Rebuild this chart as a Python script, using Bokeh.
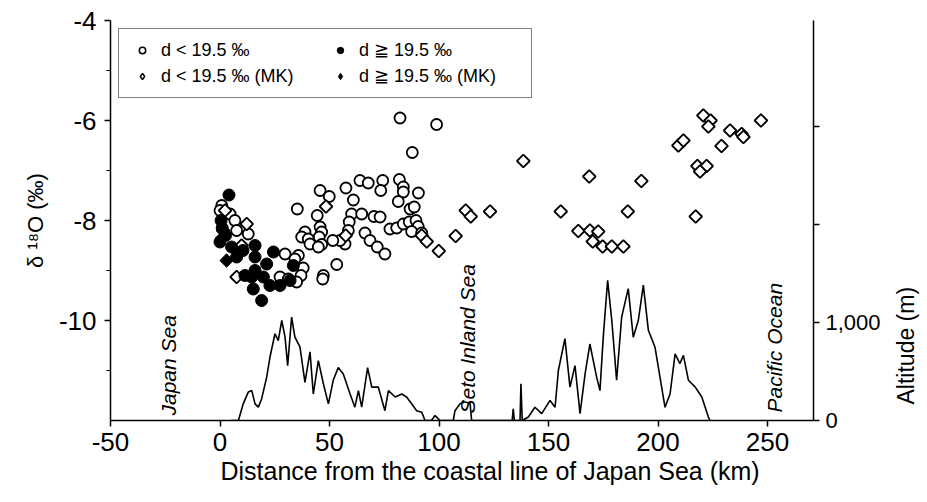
import numpy as np
from bokeh.plotting import figure
from bokeh.layouts import row
from bokeh.models import (Range1d, LinearAxis, FixedTicker, Legend, LegendItem, Title,
                          ColumnDataSource)
from bokeh.core.properties import value
from bokeh.embed import file_html
from bokeh.resources import INLINE

FONT = "Liberation Sans"

# ---------------- data ----------------
# d < 19.5 permil (open circles)
open_circle_x = [82.2, 98.9, 87.8, 63.9, 67.7, 74.3, 73.4, 81.9, 83.7, 83.7, 90.6, 81.4, 86.8, 88.7,
                 57.5, 45.7, 49.9, 60.9, 35.3, 44.4, 60.1, 64.7, 59.0, 70.3, 73.1,
                 77.6, 80.7, 83.7, 86.4, 89.5, 90.5, 87.5, 92.1,
                 66.2, 68.5, 71.8, 75.3, 58.6, 57.1, 54.8, 51.5,
                 45.7, 46.4, 45.3, 38.8, 37.3, 40.3, 41.1, 46.4, 44.9,
                 53.3, 47.2, 46.9, 35.8,
                 0.8, 0.0, 4.6, 6.8, 7.6, 12.9, 29.7, 34.2, 38.0, 37.0, 35.0, 27.4, 31.2]
open_circle_y = [-5.95, -6.08, -6.64, -7.20, -7.25, -7.20, -7.40, -7.18, -7.33, -7.43, -7.45, -7.62, -7.77, -7.73,
                 -7.35, -7.40, -7.52, -7.59, -7.77, -7.90, -7.87, -7.87, -8.03, -7.92, -7.93,
                 -8.17, -8.15, -8.07, -8.03, -8.00, -8.12, -8.22, -8.25,
                 -8.25, -8.40, -8.53, -8.67, -8.20, -8.47, -8.40, -8.40,
                 -8.13, -8.23, -8.33, -8.23, -8.33, -8.37, -8.47, -8.48, -8.53,
                 -8.88, -9.10, -9.17, -8.70,
                 -7.70, -7.80, -7.87, -8.00, -8.20, -8.27, -8.67, -8.77, -8.95, -9.10, -9.23, -9.13, -9.17]

# d >= 19.5 permil (filled circles)
filled_circle_x = [4.1, 0.5, 1.0, 2.5, 0.0, 5.3, 16.0, 7.6, 10.5, 24.4, 16.0, 21.3, 33.5, 16.0,
                   11.4, 19.8, 14.5, 22.8, 27.4, 32.0, 15.2, 19.0]
filled_circle_y = [-7.49, -8.00, -8.15, -8.30, -8.43, -8.53, -8.50, -8.73, -8.60, -8.63, -8.73, -8.87, -8.90, -9.00,
                   -9.10, -9.13, -9.13, -9.30, -9.30, -9.20, -9.37, -9.60]

# d < 19.5 permil (MK, open diamonds)
open_diamond_x = [2.3, 12.2, 1.4, 9.9, 7.6, 48.4, 57.4, 92.1, 94.4, 107.6, 99.9,
                  112.2, 114.5, 123.3, 138.5, 155.6, 163.6, 168.9, 172.7, 170.2, 174.7, 178.9, 184.2,
                  168.6, 186.2, 192.4, 209.3, 211.6, 217.2, 218.0, 222.2, 219.2, 220.7, 224.0, 223.0,
                  229.0, 232.9, 238.2, 239.0, 247.0]
open_diamond_y = [-7.80, -8.07, -8.20, -8.50, -9.13, -7.72, -8.30, -8.30, -8.42, -8.31, -8.61,
                  -7.80, -7.92, -7.82, -6.81, -7.82, -8.21, -8.20, -8.22, -8.42, -8.52, -8.52, -8.52,
                  -7.12, -7.82, -7.21, -6.50, -6.40, -7.92, -6.91, -6.91, -7.02, -5.90, -6.00, -6.12,
                  -6.51, -6.20, -6.27, -6.33, -6.00]

# d >= 19.5 permil (MK, filled diamonds)
filled_diamond_x = [3.0, 1.0]
filled_diamond_y = [-8.80, -8.35]

# topographic profile (distance km, altitude m)
alt_x = [5, 8.4, 10.6, 12.9, 14.5, 16.0, 17.5, 19.0, 21.3, 22.8, 25.1, 26.6, 28.2, 29.7, 30.9,
         32.7, 34.2, 36.5, 38.8, 41.1, 42.6, 44.9, 47.2, 49.5, 51.7, 54.0, 56.3, 59.4, 61.6,
         63.2, 64.7, 67.4, 69.3, 72.3, 75.3, 76.9, 80.0, 83.0, 85.2, 87.5, 89.8, 92.1, 93.6,
         96.5, 98.2, 100.5, 106.5, 107.3, 109.6, 111.9, 114.2, 114.9,
         133.4, 133.9, 134.4, 137.0, 137.4, 138.0, 140.8, 143.8, 146.9, 150.7, 153.0, 154.5,
         157.5, 159.8, 162.1, 164.4, 166.7, 168.9, 172.0, 173.5, 175.0, 177.0, 178.9, 181.1,
         183.4, 186.4, 188.7, 191.0, 193.3, 195.6, 198.6, 203.2, 205.5, 207.8, 210.0, 211.6,
         213.9, 217.0, 220.0, 223.0, 223.7]
alt_m = [0, 0, 170, 290, 305, 170, 136, 220, 440, 645, 885, 815, 1020, 850, 560,
         1055, 850, 750, 390, 700, 270, 610, 375, 170, 410, 540, 475, 270, 136,
         305, 136, 540, 340, 340, 100, 305, 240, 270, 240, 170, 100, 85, 0,
         0, 50, 0, 0, 100, 170, 190, 170, 0,
         0, 120, 0, 0, 375, 0, 35, 135, 70, 205, 135, 510,
         835, 340, 560, 70, 475, 780, 440, 305, 850, 1430, 1020, 410,
         1055, 1345, 850, 1020, 1380, 920, 750, 135, 270, 680, 580, 665,
         410, 340, 240, 35, 0]

x_ticks = [-50, 0, 50, 100, 150, 200, 250]
x_tick_labels = {-50: "-50", 0: "0", 50: "50", 100: "100", 150: "150", 200: "200", 250: "250"}
d18o_ticks = [-4, -6, -8, -10]
d18o_tick_labels = {-4: "-4", -6: "-6", -8: "-8", -10: "-10"}
d18o_minor = [-5, -7, -9, -11]
alt_ticks = [0, 1000, 2000, 3000]
alt_tick_labels = {0: "0", 1000: "1,000", 2000: "", 3000: ""}

region_names = ["Japan Sea", "Seto Inland Sea", "Pacific Ocean"]
region_x = [-23.7, 112.8, 253.4]
region_y = [-11.9, -11.86, -11.84]

x_title = "Distance from the coastal line of Japan Sea (km)"
alt_title = ["Altitude (m)"]
alt_title_x = [0.5]
alt_title_y = [398]

legend_labels = ["d < 19.5 ‰", "d ≧ 19.5 ‰", "d < 19.5 ‰ (MK)", "d ≧ 19.5 ‰ (MK)"]

# ---------------- main figure ----------------
p = figure(width=885, height=494, output_backend="svg", toolbar_location=None,
           x_range=Range1d(-50, 271), y_range=Range1d(-12, -4),
           min_border_left=110, min_border_right=72, min_border_top=20, min_border_bottom=74)
p.extra_y_ranges = {"alt": Range1d(0, 4080)}
p.outline_line_color = None
p.xgrid.grid_line_color = None
p.ygrid.grid_line_color = None

xa = p.xaxis[0]
xa.ticker = FixedTicker(ticks=x_ticks)
xa.major_label_overrides = x_tick_labels
xa.major_label_text_font = FONT
xa.major_label_text_font_size = "26px"
xa.major_label_text_color = "black"
xa.major_tick_out = 6
xa.major_tick_in = 0
xa.minor_tick_out = 0
xa.axis_line_width = 1.5
xa.major_tick_line_width = 1.5
xa.major_label_standoff = 6

ya = p.yaxis[0]
ya.ticker = FixedTicker(ticks=d18o_ticks, minor_ticks=d18o_minor)
ya.major_label_overrides = d18o_tick_labels
ya.axis_label = "δ ¹⁸O (‰)"
ya.axis_label_text_font = FONT
ya.axis_label_text_font_size = "22px"
ya.axis_label_text_font_style = "normal"
ya.axis_label_text_color = "black"
ya.axis_label_standoff = 8
ya.major_label_text_font = FONT
ya.major_label_text_font_size = "26px"
ya.major_label_text_color = "black"
ya.major_tick_out = 6
ya.major_tick_in = 0
ya.minor_tick_out = 4
ya.minor_tick_in = 0
ya.axis_line_width = 1.5
ya.major_tick_line_width = 1.5
ya.major_label_standoff = 8

ra = LinearAxis(y_range_name="alt", ticker=FixedTicker(ticks=alt_ticks),
                major_label_overrides=alt_tick_labels)
ra.major_label_text_font = FONT
ra.major_label_text_font_size = "22px"
ra.major_label_text_color = "black"
ra.major_tick_out = 6
ra.major_tick_in = 0
ra.minor_tick_out = 0
ra.axis_line_width = 1.5
ra.major_tick_line_width = 1.5
ra.major_label_standoff = 6
p.add_layout(ra, "right")

p.add_layout(Title(text=x_title, align="left", offset=110, standoff=6, vertical_align="top",
                   text_font=FONT, text_font_size="25px", text_font_style="normal",
                   text_color="black"), "below")

# profile
p.line(alt_x, alt_m, y_range_name="alt", line_color="black", line_width=1.6)

# data points
r_oc = p.scatter(open_circle_x, open_circle_y, marker="circle", size=11, fill_color="white",
                 line_color="black", line_width=1.8)
r_od = p.scatter(open_diamond_x, open_diamond_y, marker="square", angle=np.pi / 4, size=9,
                 fill_color="white", line_color="black", line_width=1.8)
r_fc = p.scatter(filled_circle_x, filled_circle_y, marker="circle", size=12, fill_color="black",
                 line_color="black", line_width=1)
r_fd = p.scatter(filled_diamond_x, filled_diamond_y, marker="square", angle=np.pi / 4, size=9.5,
                 fill_color="black", line_color="black", line_width=1)

# region names
p.text(x=region_x, y=region_y, text=region_names, angle=np.pi / 2,
       text_font=value(FONT), text_font_style="italic", text_font_size="21px",
       text_align="left", text_baseline="middle", text_color="black")

# legend-only glyphs (NaN, never drawn in the plot area)
nan_src = ColumnDataSource(data=dict(x=[np.nan], y=[np.nan]))
g1 = p.scatter("x", "y", source=nan_src, marker="circle", size=8, fill_color="white",
               line_color="black", line_width=1.5)
g2 = p.scatter("x", "y", source=nan_src, marker="circle", size=9, fill_color="black",
               line_color="black")
g3 = p.scatter("x", "y", source=nan_src, marker="diamond", size=11, fill_color="white",
               line_color="black", line_width=1.5)
g4 = p.scatter("x", "y", source=nan_src, marker="diamond", size=8, fill_color="black",
               line_color="black")

legend = Legend(items=[LegendItem(label=legend_labels[0], renderers=[g1]),
                       LegendItem(label=legend_labels[1], renderers=[g2]),
                       LegendItem(label=legend_labels[2], renderers=[g3]),
                       LegendItem(label=legend_labels[3], renderers=[g4])],
                location="top_left", orientation="horizontal", ncols=2,
                label_text_font=FONT, label_text_font_size="18px", label_text_color="black",
                glyph_width=26, glyph_height=16, label_standoff=6, label_width=162,
                label_height=18, spacing=4, padding=10, margin=8,
                border_line_color="black", border_line_width=1,
                background_fill_color="white", background_fill_alpha=1)
p.add_layout(legend)

# ---------------- narrow strip for the altitude title ----------------
# same vertical scale as the altitude axis (about 10.2 m per pixel), frame extended downward
p2 = figure(width=40, height=494, output_backend="svg", toolbar_location=None,
            x_range=Range1d(0, 1), y_range=Range1d(-449, 4080),
            x_axis_location=None, y_axis_location=None,
            min_border_left=0, min_border_right=0, min_border_top=20, min_border_bottom=30)
p2.outline_line_color = None
p2.xgrid.grid_line_color = None
p2.ygrid.grid_line_color = None
p2.text(x=alt_title_x, y=alt_title_y, text=alt_title, angle=np.pi / 2,
        text_font=value(FONT), text_font_size="23px", text_align="center",
        text_baseline="middle", text_color="black")

layout = row(p, p2, spacing=0)
open("out.html", "w").write(file_html(layout, INLINE))
